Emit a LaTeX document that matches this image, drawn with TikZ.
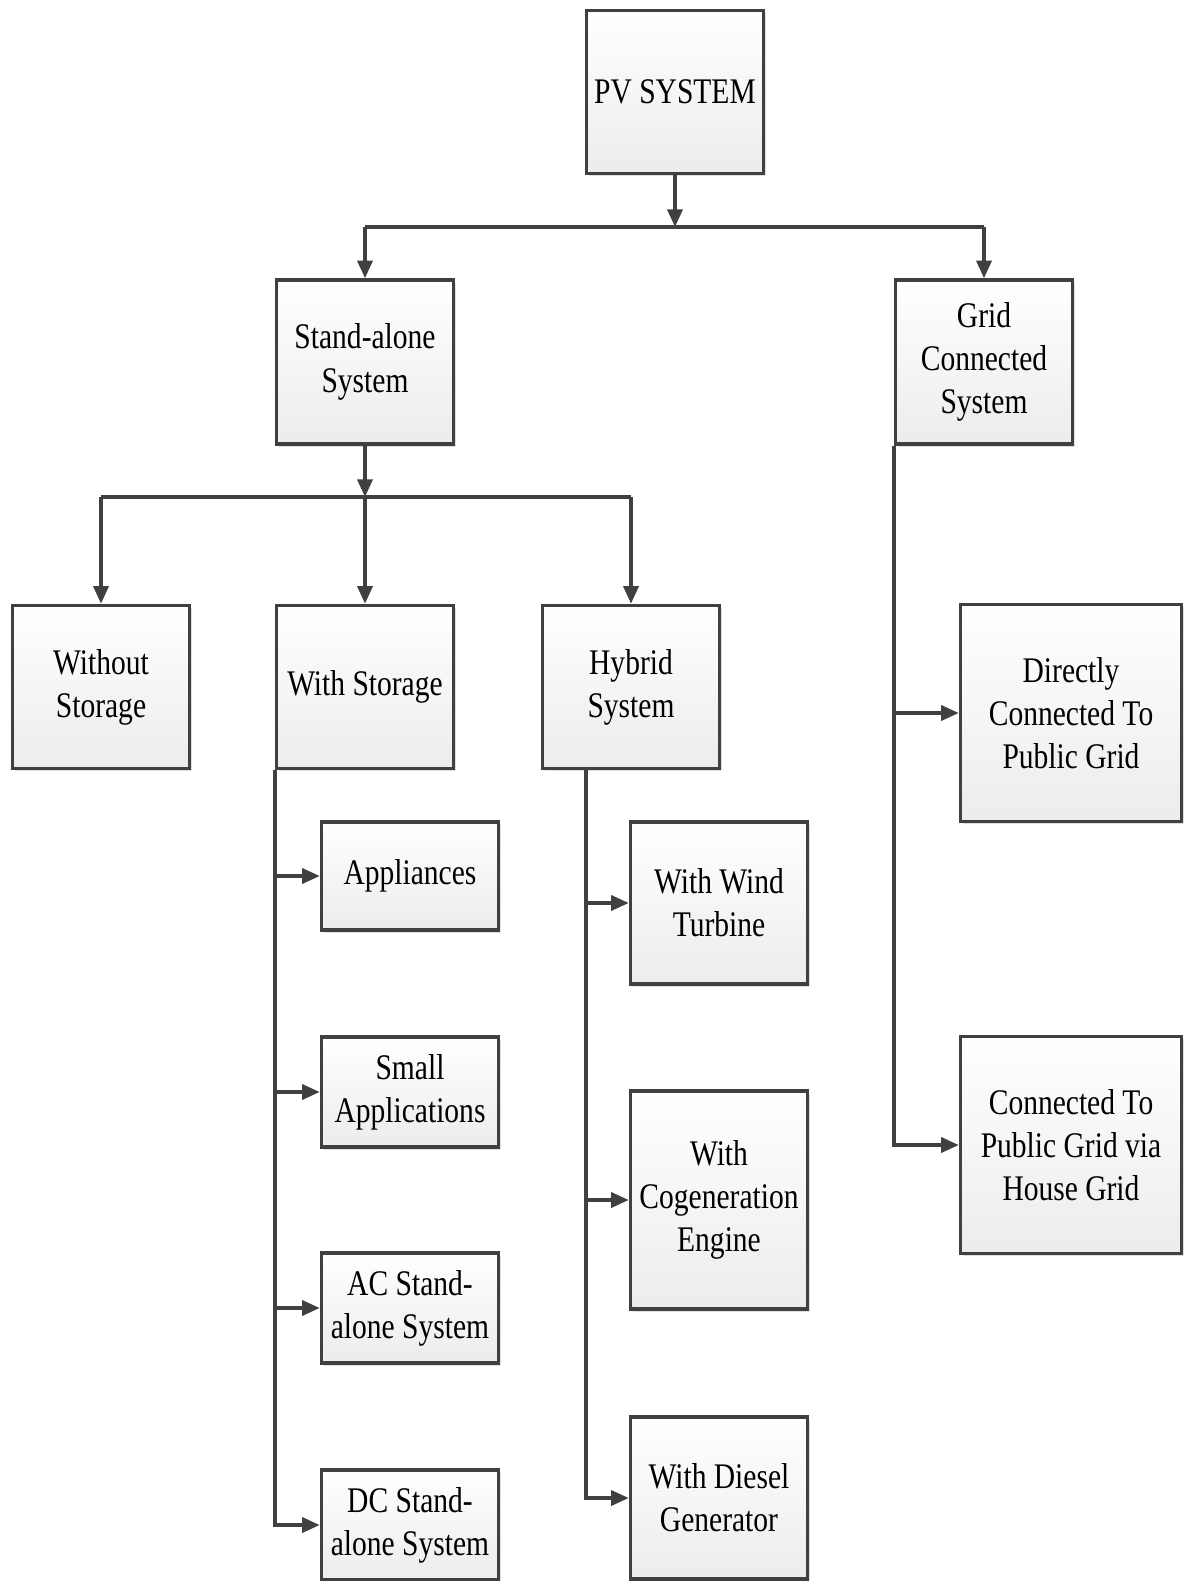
\documentclass[tikz,border=0pt]{standalone}
\usepackage{fontspec}
\setmainfont{Liberation Serif}[FakeStretch=0.82]
\usetikzlibrary{arrows.meta, shadows}
\definecolor{boxline}{HTML}{404040}
\definecolor{boxlow}{HTML}{ECECEC}

\begin{document}
\begin{tikzpicture}[x=0.02cm, y=-0.02cm,
    every node/.style={font=\fontsize{20.5}{24.6}\selectfont},
    box/.style={draw=boxline, line width=2pt, top color=white, bottom color=boxlow, minimum width=3.54cm, inner sep=0pt, align=center, drop shadow={shadow xshift=1.5pt, shadow yshift=-1.5pt, opacity=0.25, fill=gray}},
    wide/.style={box, minimum width=4.42cm},
    ln/.style={line width=2pt, boxline},
    arr/.style={ln, -{Triangle[length=10pt, width=8.5pt]}}
]
\useasboundingbox (0,0) rectangle (1184,1581);

\node[box, minimum height=3.26cm] (pv) at (675,92) {PV SYSTEM};
\node[box, minimum height=3.28cm] (stand) at (365,362) {Stand-alone\\System};
\node[box, minimum height=3.28cm] (grid) at (984,362) {Grid\\Connected\\System};

\coordinate (bus1) at (675,227);
\draw[arr] (pv) -- (bus1);
\draw[ln] (stand.north |- bus1) -- (grid.north |- bus1);
\draw[arr] (stand.north |- bus1) -- (stand);
\draw[arr] (grid.north |- bus1) -- (grid);

% stand-alone branches
\node[box, minimum height=3.26cm] (nostore) at (101,687) {Without\\Storage};
\node[box, minimum height=3.26cm] (store) at (365,687) {With Storage};
\node[box, minimum height=3.26cm] (hybrid) at (631,687) {Hybrid\\System};

\coordinate (bus2) at (365,497);
\draw[arr] (stand) -- (bus2);
\draw[ln] (nostore.north |- bus2) -- (hybrid.north |- bus2);
\draw[arr] (nostore.north |- bus2) -- (nostore);
\draw[arr] (bus2) -- (store);
\draw[arr] (hybrid.north |- bus2) -- (hybrid);

% with storage
\node[box, minimum height=2.16cm] (appl) at (410,876) {Appliances};
\node[box, minimum height=2.2cm] (small) at (410,1092) {Small\\Applications};
\node[box, minimum height=2.2cm] (acsys) at (410,1308) {AC Stand-\\alone System};
\node[box, minimum height=2.2cm] (dcsys) at (410,1525) {DC Stand-\\alone System};

\draw[arr] (store.south west) |- (appl);
\draw[arr] (store.south west) |- (small);
\draw[arr] (store.south west) |- (acsys);
\draw[arr] (store.south west) |- (dcsys);

% hybrid
\node[box, minimum height=3.24cm] (wind) at (719,903) {With Wind\\Turbine};
\node[box, minimum height=4.36cm] (cogen) at (719,1200) {With\\Cogeneration\\Engine};
\node[box, minimum height=3.24cm] (diesel) at (719,1498) {With Diesel\\Generator};

\coordinate (htop) at (586,768);
\draw[arr] (htop) |- (wind);
\draw[arr] (htop) |- (cogen);
\draw[arr] (htop) |- (diesel);

% grid connected
\node[wide, minimum height=4.34cm] (direct) at (1071,713) {Directly\\Connected To\\Public Grid};
\node[wide, minimum height=4.34cm] (house) at (1071,1145) {Connected To\\Public Grid via\\House Grid};

\draw[arr] (grid.south west) |- (direct);
\draw[arr] (grid.south west) |- (house);

\end{tikzpicture}
\end{document}
